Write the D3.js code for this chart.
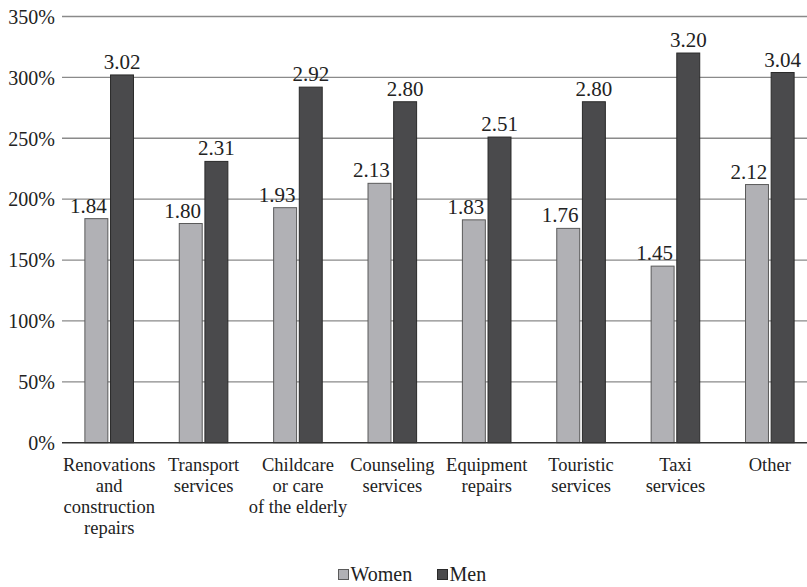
<!DOCTYPE html>
<html>
<head>
<meta charset="utf-8">
<script src="https://cdn.jsdelivr.net/npm/d3@7/dist/d3.min.js"></script>
<style>
  html, body { margin: 0; padding: 0; background: #fff; }
  svg { display: block; }
</style>
</head>
<body>
<svg id="chart" width="807" height="587"></svg>
<script>
// Service categories (line breaks for the axis labels)
const categories = [
  ["Renovations", "and", "construction", "repairs"],
  ["Transport", "services"],
  ["Childcare", "or care", "of the elderly"],
  ["Counseling", "services"],
  ["Equipment", "repairs"],
  ["Touristic", "services"],
  ["Taxi", "services"],
  ["Other"]
];
const women = [1.84, 1.80, 1.93, 2.13, 1.83, 1.76, 1.45, 2.12];
const men   = [3.02, 2.31, 2.92, 2.80, 2.51, 2.80, 3.20, 3.04];
const seriesNames = ["Women", "Men"];
const yTicks = [0, 0.5, 1, 1.5, 2, 2.5, 3, 3.5];

const colors = { Women: "#b1b1b5", Men: "#4a4a4c" };
const strokes = { Women: "#5a5a5a", Men: "#2a2a2a" };
const FONT = "Liberation Serif";
const INK = "#222";
// Text is set at a fixed base size and scaled down to the wanted size
const BASE = 24;
const k = size => size / BASE;

const svg = d3.select("#chart");
const plotLeft = 62, plotRight = 817, plotTop = 16.5, plotBottom = 442.7;

const x0 = d3.scaleBand().domain(d3.range(categories.length)).range([plotLeft, plotRight]).padding(0);
const groupInner = 48.6;
const x1 = d3.scaleBand().domain(seriesNames).range([-groupInner / 2, groupInner / 2]).paddingInner(0.105);
const y = d3.scaleLinear().domain([0, 3.5]).range([plotBottom, plotTop]);

// Horizontal gridlines
svg.append("g")
  .selectAll("line")
  .data(yTicks.filter(d => d > 0))
  .join("line")
  .attr("x1", plotLeft).attr("x2", 807)
  .attr("y1", d => y(d)).attr("y2", d => y(d))
  .attr("stroke", "#8a8a8a").attr("stroke-width", 1.3);

// Y axis labels
const tickSize = 20;
const yAxis = d3.axisLeft(y).tickValues(yTicks).tickSize(0).tickPadding(0)
  .tickFormat(d => Math.round(d * 100) + "%");
const gy = svg.append("g").attr("transform", `translate(${plotLeft},0)`).call(yAxis);
gy.attr("font-family", FONT).attr("font-size", BASE);
gy.select(".domain").remove();
gy.selectAll("text")
  .attr("x", 0)
  .attr("transform", `translate(-7,0) scale(${k(tickSize)})`)
  .attr("font-family", FONT).attr("font-size", BASE)
  .attr("fill", INK).attr("dy", "0.34em");

// Bars
const groups = svg.append("g")
  .selectAll("g")
  .data(categories.map((c, i) => ({ i, vals: [
    { s: "Women", v: women[i] }, { s: "Men", v: men[i] }
  ] })))
  .join("g")
  .attr("transform", d => `translate(${x0(d.i) + x0.bandwidth() / 2},0)`);

groups.selectAll("rect")
  .data(d => d.vals)
  .join("rect")
  .attr("x", d => x1(d.s))
  .attr("width", x1.bandwidth())
  .attr("y", d => y(d.v))
  .attr("height", d => y(0) - y(d.v))
  .attr("fill", d => colors[d.s])
  .attr("stroke", d => strokes[d.s])
  .attr("stroke-width", 1);

// Value labels (women's shifted left of their bar)
const valueSize = 21;
groups.selectAll("text.val")
  .data(d => d.vals)
  .join("text")
  .attr("class", "val")
  .attr("transform", d =>
    `translate(${x1(d.s) + x1.bandwidth() / 2 + (d.s === "Women" ? -8 : 0)},${y(d.v) - 6}) scale(${k(valueSize)})`)
  .attr("text-anchor", "middle")
  .attr("font-family", FONT).attr("font-size", BASE).attr("fill", INK)
  .text(d => d.v.toFixed(2));

// Baseline axis
svg.append("line")
  .attr("x1", plotLeft).attr("x2", 807)
  .attr("y1", y(0)).attr("y2", y(0))
  .attr("stroke", "#333").attr("stroke-width", 1.5);

// Category labels
const catSize = 18.5, catLine = 21.2;
const cat = svg.append("g")
  .selectAll("text")
  .data(categories)
  .join("text")
  .attr("text-anchor", "middle")
  .attr("font-family", FONT).attr("font-size", BASE).attr("fill", INK)
  .attr("transform", (d, i) => `translate(${x0(i) + x0.bandwidth() / 2},470.5) scale(${k(catSize)})`);
cat.selectAll("tspan")
  .data(d => d)
  .join("tspan")
  .attr("x", 0)
  .attr("y", (d, i) => i * catLine / k(catSize))
  .text(d => d);

// Legend
const legendSize = 20;
const legendItems = [
  { s: "Women", x: 338.5 },
  { s: "Men", x: 437.5 }
];
const lg = svg.append("g").selectAll("g").data(legendItems).join("g")
  .attr("transform", d => `translate(${d.x},569.5)`);
lg.append("rect").attr("width", 10).attr("height", 10)
  .attr("fill", d => colors[d.s]).attr("stroke", d => strokes[d.s]).attr("stroke-width", 1);
lg.append("text")
  .attr("transform", `translate(12,11.5) scale(${k(legendSize)})`)
  .attr("font-family", FONT).attr("font-size", BASE).attr("fill", INK)
  .text(d => d.s);
</script>
</body>
</html>
